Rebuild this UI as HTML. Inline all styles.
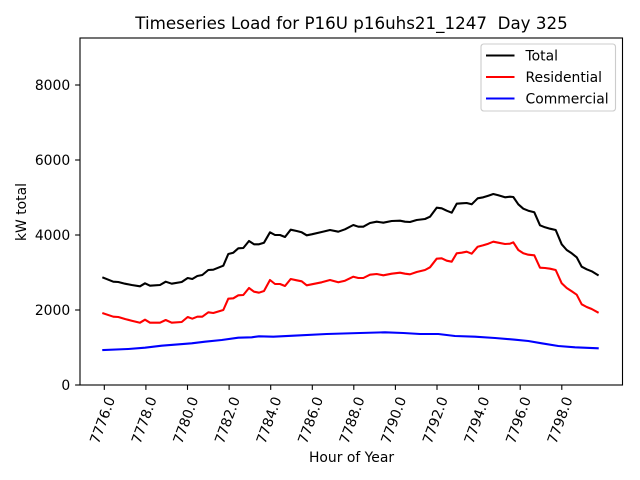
<!DOCTYPE html>
<html><head><meta charset="utf-8"><style>
html,body{margin:0;padding:0;background:#fff;}
svg{display:block;font-family:"DejaVu Sans","Liberation Sans",sans-serif;}
</style></head><body>
<svg width="640" height="480" viewBox="0 0 640 480" xmlns="http://www.w3.org/2000/svg">
<rect x="0" y="0" width="640" height="480" fill="#fff"/>
<text x="351.5" y="29" font-size="16.7" text-anchor="middle" fill="#000" xml:space="preserve">Timeseries Load for P16U p16uhs21_1247  Day 325</text>

<g fill="none" stroke-width="2.08" stroke-linejoin="round" stroke-linecap="square">
<polyline stroke="#0000ff" points="103.3,350 128.3,349 145,347.7 161.7,345.7 191.7,343.3 205,341.7 221.7,340 238.3,337.7 251.7,337.3 259,336.3 273.3,336.7 293.3,335.7 326.7,334 360,333 385,332.3 403.3,333 420,334 438.3,334 455,336 475,336.7 495,338 515,339.7 528.3,341 541.7,343.3 558.3,346 575,347.3 597.7,348.3"/>
<polyline stroke="#ff0000" points="103.3,313.3 113.3,316.7 118.3,317 125,319 131.7,320.7 140,322.7 145,319.7 150,322.7 160,322.7 165.7,320 171.7,322.7 181.7,322 187.7,317 192.3,318.7 197.3,316.7 202.3,316.7 208.3,312.3 213.3,313 223.3,310 228.3,298.7 233.3,298.3 238.3,295.3 243.3,295 249,288 254,291.7 259,292.7 264,291 270,280 275,284 280,284 285,286 290.7,279 296.7,280.3 301.7,281.3 306.7,285.3 311.7,284.3 321.7,282.3 330,280 338.3,282.3 345,280.7 353.3,276.7 358.3,278 363.3,278 370,274.7 376.7,274 383.3,275.3 391.7,273.7 400,272.7 405,273.7 410,274.3 416.7,272 425,270 430,267.3 436.7,258.7 441.7,258.3 446.7,260.7 451.7,261.7 456.7,253.3 461.7,252.7 466.7,251.7 471.7,253.7 477.7,246.7 483.3,245.3 488.3,243.7 493.3,241.7 498.3,242.7 505,244 510,243.7 513.3,242.3 518.3,250 523.3,253.3 528.3,254.7 534.3,255.3 540,267.7 545,268 550,268.7 555.7,270 561.7,283.3 566.7,288 571.7,291.3 576.7,294.7 581.7,304.3 586.7,307 591.7,309 597.7,312.3"/>
<polyline stroke="#000000" points="103.3,277.7 113.3,281.7 118.3,282 125,283.7 131.7,285 140,286.3 145,283.3 150,285.7 160,285 165.7,281.7 171.7,283.7 181.7,282 187.7,278 192.3,279 197.3,276 202.3,275 208.3,270 213.3,269.7 223.3,265.7 228.3,254 233.3,252.7 238.3,248.3 243.3,248 249,241 254,244.3 259,244.3 264,242.7 270,232.3 275,235 280,235 285,237 290.7,229.7 296.7,231 301.7,232.3 306.7,235.3 311.7,234.3 321.7,232 330,230 338.3,231.7 345,229.3 353.3,225 358.3,226.7 363.3,226.7 370,223 376.7,221.7 383.3,222.7 391.7,221 400,220.7 405,221.7 410,222 416.7,220 425,219 430,216.7 436.7,207.7 441.7,208.3 446.7,210.7 451.7,212.7 456.7,203.7 461.7,203.3 466.7,203 471.7,204.3 477.7,198.3 483.3,197.3 488.3,195.7 493.3,194 498.3,195.3 505,197.3 510,196.7 513.3,197 518.3,204.3 523.3,208.7 528.3,210.7 534.3,212.3 540,225.3 545,227.3 550,228.7 555.7,230 561.7,244.3 566.7,250 571.7,253.3 576.7,257.3 581.7,266.7 586.7,269.3 591.7,271.3 597.7,275"/>
</g>

<!-- axes frame -->
<rect x="80" y="38" width="542.5" height="347" fill="none" stroke="#000" stroke-width="1.1"/>

<!-- y ticks -->
<g stroke="#000" stroke-width="1.1">
<line x1="75.1" y1="385" x2="80" y2="385"/>
<line x1="75.1" y1="310" x2="80" y2="310"/>
<line x1="75.1" y1="235" x2="80" y2="235"/>
<line x1="75.1" y1="160" x2="80" y2="160"/>
<line x1="75.1" y1="85" x2="80" y2="85"/>
</g>
<g font-size="13.9" text-anchor="end" fill="#000">
<text x="70.2" y="390">0</text>
<text x="70.2" y="315">2000</text>
<text x="70.2" y="240">4000</text>
<text x="70.2" y="165">6000</text>
<text x="70.2" y="90">8000</text>
</g>
<text transform="translate(26,212) rotate(-90)" font-size="13.9" text-anchor="middle" fill="#000">kW total</text>

<!-- x ticks -->
<g stroke="#000" stroke-width="1.1">
<line x1="104.3" y1="385" x2="104.3" y2="389.9"/>
<line x1="145.9" y1="385" x2="145.9" y2="389.9"/>
<line x1="187.5" y1="385" x2="187.5" y2="389.9"/>
<line x1="229.1" y1="385" x2="229.1" y2="389.9"/>
<line x1="270.7" y1="385" x2="270.7" y2="389.9"/>
<line x1="312.3" y1="385" x2="312.3" y2="389.9"/>
<line x1="353.8" y1="385" x2="353.8" y2="389.9"/>
<line x1="395.4" y1="385" x2="395.4" y2="389.9"/>
<line x1="437" y1="385" x2="437" y2="389.9"/>
<line x1="478.6" y1="385" x2="478.6" y2="389.9"/>
<line x1="520.2" y1="385" x2="520.2" y2="389.9"/>
<line x1="561.8" y1="385" x2="561.8" y2="389.9"/>
</g>
<g font-size="13.9" text-anchor="end" fill="#000">
<text transform="translate(115.3,399) rotate(-70)">7776.0</text>
<text transform="translate(156.9,399) rotate(-70)">7778.0</text>
<text transform="translate(198.5,399) rotate(-70)">7780.0</text>
<text transform="translate(240.1,399) rotate(-70)">7782.0</text>
<text transform="translate(281.7,399) rotate(-70)">7784.0</text>
<text transform="translate(323.3,399) rotate(-70)">7786.0</text>
<text transform="translate(364.8,399) rotate(-70)">7788.0</text>
<text transform="translate(406.4,399) rotate(-70)">7790.0</text>
<text transform="translate(448,399) rotate(-70)">7792.0</text>
<text transform="translate(489.6,399) rotate(-70)">7794.0</text>
<text transform="translate(531.2,399) rotate(-70)">7796.0</text>
<text transform="translate(572.8,399) rotate(-70)">7798.0</text>
</g>
<text x="351.5" y="462" font-size="13.9" text-anchor="middle" fill="#000">Hour of Year</text>

<!-- legend -->
<rect x="481" y="44" width="134.5" height="67" rx="2.8" ry="2.8" fill="#fff" fill-opacity="0.8" stroke="#cccccc" stroke-width="1.1"/>
<g stroke-width="2.08">
<line x1="486" y1="55.5" x2="514.5" y2="55.5" stroke="#000"/>
<line x1="486" y1="77" x2="514.5" y2="77" stroke="#ff0000"/>
<line x1="486" y1="98.5" x2="514.5" y2="98.5" stroke="#0000ff"/>
</g>
<g font-size="13.9" fill="#000">
<text x="525.5" y="60.5">Total</text>
<text x="525.5" y="82">Residential</text>
<text x="525.5" y="103.5">Commercial</text>
</g>
</svg>
</body></html>
